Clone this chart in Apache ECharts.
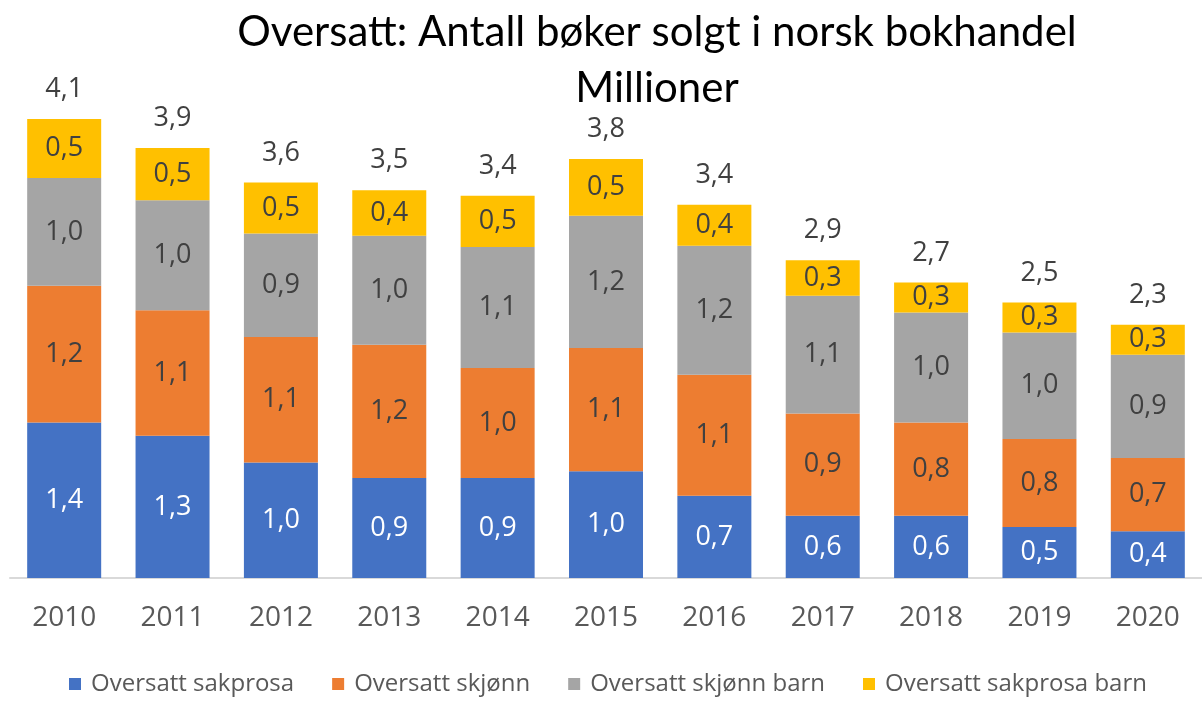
<!DOCTYPE html>
<html>
<head>
<meta charset="utf-8">
<script src="https://cdn.jsdelivr.net/npm/echarts@6/dist/echarts.min.js"></script>
<style>
  html, body { margin: 0; padding: 0; background: #fff; }
  #chart { width: 1202px; height: 701px; }
</style>
</head>
<body>
<div id="chart"></div>
<script>
// Oversatte bøker, millioner eksemplarer
const years = ['2010', '2011', '2012', '2013', '2014', '2015', '2016', '2017', '2018', '2019', '2020'];
const sakprosa     = [1.40, 1.28, 1.04, 0.90, 0.90, 0.96, 0.74, 0.56, 0.56, 0.46, 0.42];
const skjonn       = [1.23, 1.13, 1.13, 1.20, 0.99, 1.11, 1.09, 0.92, 0.84, 0.79, 0.66];
const skjonnBarn   = [0.97, 0.99, 0.93, 0.98, 1.09, 1.19, 1.16, 1.06, 0.99, 0.96, 0.93];
const sakprosaBarn = [0.53, 0.47, 0.46, 0.41, 0.46, 0.51, 0.37, 0.32, 0.27, 0.27, 0.27];
const seriesNames = ['Oversatt sakprosa', 'Oversatt skjønn', 'Oversatt skjønn barn', 'Oversatt sakprosa barn'];

const totals = years.map((y, i) => sakprosa[i] + skjonn[i] + skjonnBarn[i] + sakprosaBarn[i]);

const fmt = v => v.toFixed(1).replace('.', ',');
const labelFont = '"Open Sans", "Noto Sans", sans-serif';

const chart = echarts.init(document.getElementById('chart'));

function barSeries(name, data, color, textColor) {
  return {
    name: name,
    type: 'bar',
    stack: 'total',
    data: data,
    barWidth: 74,
    itemStyle: { color: color },
    label: {
      show: true,
      position: 'inside',
      color: textColor,
      fontSize: 27,
      fontFamily: labelFont,
      formatter: p => fmt(p.value)
    }
  };
}

const option = {
  backgroundColor: '#fff',
  animation: false,
  title: {
    text: 'Oversatt: Antall bøker solgt i norsk bokhandel\nMillioner',
    left: 652,
    textAlign: 'center',
    top: -1,
    textStyle: {
      fontFamily: 'Lato, "Open Sans", sans-serif',
      fontSize: 42,
      fontWeight: 'normal',
      color: '#000',
      lineHeight: 56
    }
  },
  legend: {
    data: seriesNames,
    bottom: 0,
    left: 64,
    itemWidth: 12,
    itemHeight: 12,
    itemGap: 38,
    icon: 'rect',
    textStyle: { fontSize: 24, color: '#595959', fontFamily: labelFont, padding: [0, 0, 0, 5] }
  },
  grid: { left: 10, right: 0, top: 78, height: 500 },
  xAxis: {
    type: 'category',
    data: years,
    axisLine: { lineStyle: { color: '#d9d9d9', width: 2 } },
    axisTick: { show: false },
    axisLabel: { fontSize: 28, color: '#595959', margin: 26, fontFamily: labelFont }
  },
  yAxis: {
    type: 'value',
    min: 0,
    max: 4.5,
    show: false,
    splitLine: { show: false }
  },
  series: [
    barSeries(seriesNames[0], sakprosa, '#4472C4', '#fff'),
    barSeries(seriesNames[1], skjonn, '#ED7D31', '#404040'),
    barSeries(seriesNames[2], skjonnBarn, '#A5A5A5', '#404040'),
    barSeries(seriesNames[3], sakprosaBarn, '#FFC000', '#404040'),
    {
      name: 'Totalt',
      type: 'bar',
      stack: 'total',
      data: years.map(() => 0),
      barWidth: 74,
      itemStyle: { color: 'transparent' },
      label: {
        show: true,
        position: 'top',
        distance: 16,
        color: '#404040',
        fontSize: 27,
        fontFamily: labelFont,
        formatter: p => fmt(totals[p.dataIndex])
      }
    }
  ]
};

chart.setOption(option);
</script>
</body>
</html>
